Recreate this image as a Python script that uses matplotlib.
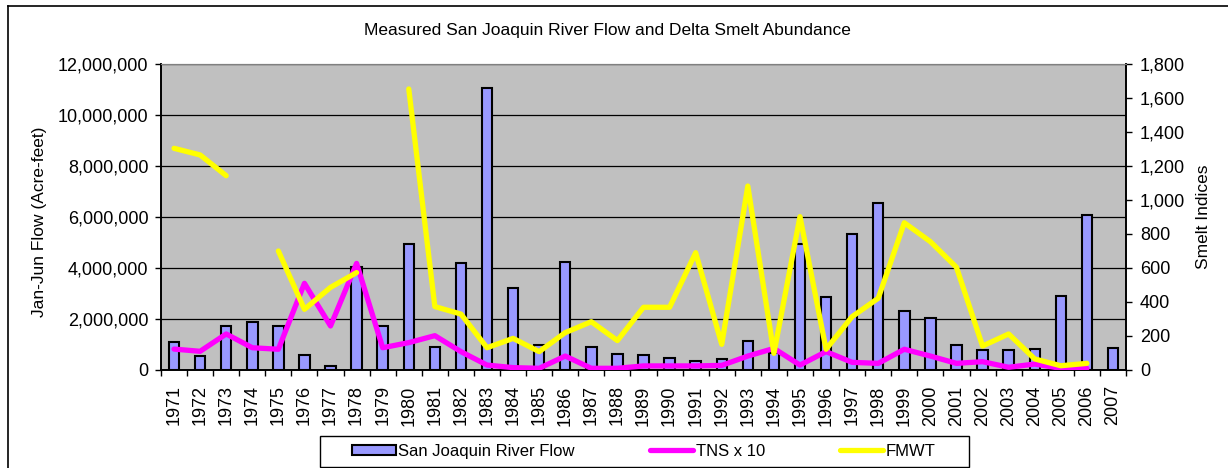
"""San Joaquin River flow (bars) vs Delta smelt indices (lines), 1971-2007."""
import matplotlib
matplotlib.use("Agg")
import matplotlib.pyplot as plt
import numpy as np
from matplotlib.patches import Patch, Rectangle
from matplotlib.lines import Line2D

plt.rcParams["font.family"] = ["Liberation Sans", "DejaVu Sans"]

years = [str(y) for y in range(1971, 2008)]

# Jan-Jun flow, acre-feet
flow = [1090000, 560000, 1730000, 1870000, 1730000, 600000, 170000, 4030000,
        1730000, 4940000, 900000, 4180000, 11050000, 3220000, 980000, 4220000,
        890000, 630000, 590000, 460000, 350000, 420000, 1140000, 680000,
        4930000, 2880000, 5350000, 6560000, 2330000, 2050000, 990000, 780000,
        780000, 820000, 2920000, 6080000, 850000]

# smelt indices (nan = no survey value)
nan = np.nan
tns_x10 = [123, 110, 212, 131, 122, 510, 259, 627, 131, 161, 202, 108, 29, 14,
           10, 82, 10, 10, 24, 24, 24, 27, 82, 127, 29, 108, 45, 39, 122, 82,
           39, 49, 16, 35, 10, 10, nan]
fmwt = [1304, 1265, 1143, nan, 700, 357, 486, 573, nan, 1653, 373, 329, 131,
        186, 108, 220, 284, 173, 369, 369, 690, 151, 1082, 98, 902, 122, 314,
        422, 866, 755, 604, 141, 212, 65, 25, 39, nan]

BAR = "#9999FF"
MAG = "#FF00FF"
YEL = "#FFFF00"
W, H = 1228, 468

fig = plt.figure(figsize=(W / 100, H / 100), dpi=100)
ax = fig.add_axes([161 / W, 1 - 370 / H, (1126 - 161) / W, (370 - 64) / H])
ax.set_facecolor("#C0C0C0")

x = np.arange(len(years))
ax.bar(x, flow, width=0.4, color=BAR, edgecolor="black", linewidth=1.5, zorder=2)
ax.set_xlim(-0.5, len(years) - 0.5)
ax.set_ylim(0, 12000000)
ax.set_yticks(np.arange(0, 12000001, 2000000))
ax.yaxis.set_major_formatter(matplotlib.ticker.StrMethodFormatter("{x:,.0f}"))
ax.grid(axis="y", color="black", linewidth=0.9, zorder=1)
ax.set_axisbelow(True)

ax.set_xticks(x)
ax.set_xticklabels(years, rotation=90)
ax.set_xticks(np.arange(-0.5, len(years)), minor=True)
ax.tick_params(axis="x", which="major", length=0, pad=11, labelsize=13)
ax.tick_params(axis="x", which="minor", length=4, width=1, direction="out")
ax.tick_params(axis="y", length=4, width=1, pad=5, labelsize=13)

ax2 = ax.twinx()
ax2.plot(x, tns_x10, color=MAG, lw=3.8, solid_joinstyle="round",
         solid_capstyle="round", zorder=3)
ax2.plot(x, fmwt, color=YEL, lw=3.8, solid_joinstyle="round",
         solid_capstyle="round", zorder=4)
ax2.set_ylim(0, 1800)
ax2.set_yticks(np.arange(0, 1801, 200))
ax2.yaxis.set_major_formatter(matplotlib.ticker.StrMethodFormatter("{x:,.0f}"))
ax2.tick_params(axis="y", length=4, width=1, pad=6, labelsize=13)

for a in (ax, ax2):
    a.spines["top"].set_color("#808080")
    for s in ("left", "right", "bottom"):
        a.spines[s].set_linewidth(1.2)

fig.text(607 / W, 1 - 31 / H, "Measured San Joaquin River Flow and Delta Smelt Abundance",
         ha="center", va="center", fontsize=12.5)
fig.text(40 / W, 1 - 222 / H, "Jan-Jun Flow (Acre-feet)", rotation=90,
         ha="center", va="center", fontsize=12.5)
fig.text(1204 / W, 1 - 217 / H, "Smelt Indices", rotation=90,
         ha="center", va="center", fontsize=12.5)

# outer chart frame (only left and top edges are inside the picture)
fig.add_artist(Line2D([8 / W, 8 / W], [0, 1 - 6 / H], color="black", lw=1.2,
                      transform=fig.transFigure))
fig.add_artist(Line2D([8 / W, 1], [1 - 6 / H, 1 - 6 / H], color="black", lw=1.2,
                      transform=fig.transFigure))

# legend box
fig.add_artist(Rectangle((320 / W, 1 - 467 / H), (969 - 320) / W, 31 / H,
                         transform=fig.transFigure, facecolor="white",
                         edgecolor="black", lw=1.0))
handles = [Patch(facecolor=BAR, edgecolor="black", linewidth=1.5),
           Line2D([], [], color=MAG, lw=3.8, solid_capstyle="round"),
           Line2D([], [], color=YEL, lw=3.8, solid_capstyle="round")]
fig.legend(handles, ["San Joaquin River Flow", "TNS x 10", "FMWT"], ncol=3,
           loc="center", bbox_to_anchor=(644 / W, 1 - 451.5 / H), frameon=False,
           fontsize=12, handlelength=2.6, handletextpad=0.15, columnspacing=4.5,
           handleheight=0.6)

fig.savefig("out.png", dpi=100)
